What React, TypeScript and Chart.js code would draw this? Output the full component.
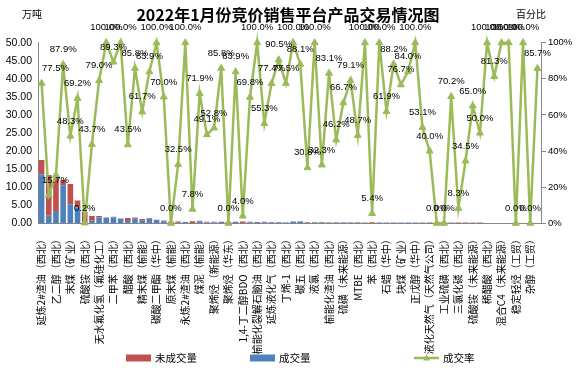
import React, { useEffect, useRef } from 'react';
import { Chart, registerables } from 'chart.js';

Chart.register(...registerables);

const FONT = "'Liberation Sans', 'Noto Sans CJK SC', sans-serif";
const CJK = "'Noto Sans CJK SC', 'Liberation Sans', sans-serif";

const chartTitle = '2022年1月份竞价销售平台产品交易情况图';
const leftUnit = '万吨';
const rightUnit = '百分比';
const seriesNames = ['未成交量', '成交量', '成交率'];

// 70 categories; Excel only shows every second label, the hidden ones are blank
const categories = [
  '延炼2#渣油（西北）', '', '乙二醇（西北）', '', '末煤（矿业）', '', '硫酸铵（西北）', '',
  '无水氟化氢（氟硅化工）', '', '二甲苯（西北）', '', '醋酸（西北）', '', '精末煤（榆能）', '',
  '碳酸二甲酯（华中）', '', '原末煤（榆能）', '', '永炼2#渣油（西北）', '', '煤泥（榆能）', '',
  '聚烯烃（新能源）', '', '聚烯烃（华东）', '', '1,4-丁二醇BDO（西北）', '', '榆能化裂解石脑油（西北）', '',
  '延炼液化气（西北）', '', '丁烯-1（西北）', '', '碳五（西北）', '', '液氯（西北）', '',
  '榆能化渣油（西北）', '', '硫磺（未来能源）', '', 'MTBE（西北）', '', '苯（西北）', '',
  '石蜡（华中）', '', '块煤（矿业）', '', '正戊醇（华中）', '', '液化天然气（天然气公司）', '',
  '工业硫磺（西北）', '', '三氯化磷（西北）', '', '硫酸铵（未来能源）', '', '稀醋酸（西北）', '',
  '混合C4（未来能源）', '', '稳定轻烃（工贸）', '', '杂醇（工贸）', '',
];

// 万吨
const unsoldVolume = [
  3.9, 11.3, 9.2, 1.45, 5.65, 1.95, 3.2, 1.13, 0.42, 0,
  0.19, 0, 0.85, 0.23, 0.46, 0.24, 0, 0.24, 0.45, 0.34,
  0, 0.51, 0.2, 0.2, 0.21, 0.06, 0.4, 0.07, 0.48, 0.12,
  0, 0.18, 0.08, 0.03, 0.07, 0, 0.07, 0.21, 0, 0.2,
  0.05, 0.14, 0.1, 0.06, 0.15, 0, 0.28, 0, 0.1, 0.03,
  0.06, 0.04, 0, 0.12, 0.15, 0.25, 0.25, 0.06, 0.23, 0.13,
  0.07, 0.1, 0, 0.01, 0, 0, 0.03, 0, 0.02, 0.01,
];

const soldVolume = [
  13.6, 2.1, 3.4, 10.55, 5.25, 4.35, 0.01, 0.87, 1.58, 1.6,
  1.61, 1.3, 0.65, 1.37, 0.74, 1.26, 1.0, 0.56, 0, 0.16,
  0.35, 0.04, 0.5, 0.2, 0.24, 0.34, 0, 0.38, 0.02, 0.28,
  0.35, 0.22, 0.27, 0.32, 0.23, 0.5, 0.53, 0.09, 0.3, 0.1,
  0.25, 0.12, 0.2, 0.24, 0.15, 0.25, 0.02, 0.25, 0.15, 0.22,
  0.19, 0.21, 0.2, 0.13, 0.1, 0, 0, 0.14, 0.02, 0.07,
  0.13, 0.1, 0.05, 0.05, 0.04, 0.03, 0, 0.04, 0, 0.04,
];

// %
const dealRate = [
  77.5, 15.7, 26.7, 87.9, 48.3, 69.2, 0.2, 43.7, 79.0, 100,
  89.3, 100, 43.5, 85.8, 61.7, 83.9, 100, 70.0, 0.0, 32.5,
  100, 7.8, 71.9, 49.1, 52.8, 85.8, 0.0, 83.9, 4.0, 69.8,
  100, 55.3, 77.4, 90.5, 77.5, 100, 88.1, 30.8, 100, 32.3,
  83.1, 46.2, 66.7, 79.1, 48.7, 100, 5.4, 100, 61.9, 88.2,
  76.7, 84.0, 100, 53.1, 40.0, 0.0, 0.0, 70.2, 8.3, 34.5,
  65.0, 50.0, 100, 81.3, 100, 100, 0.0, 100, 0.0, 85.7,
];

// points whose data label is absent in the original
const unlabeledPoints = [2];

const RED = '#C0504D';
const BLUE = '#4F81BD';
const GREEN = '#9BBB59';
const AXIS = '#868686';

const rateLabelPlugin = {
  id: 'rateLabels',
  afterDatasetsDraw(chart: any) {
    const meta = chart.getDatasetMeta(2);
    const ctx = chart.ctx;
    const area = chart.chartArea;
    ctx.save();
    ctx.font = `9.5px ${FONT}`;
    ctx.fillStyle = '#000';
    ctx.textAlign = 'center';
    ctx.textBaseline = 'middle';
    meta.data.forEach((pt: any, i: number) => {
      if (unlabeledPoints.includes(i)) return;
      const text = dealRate[i].toFixed(1) + '%';
      const w = ctx.measureText(text).width;
      let x = pt.x;
      if (x - w / 2 < area.left + 4) x = area.left + 4 + w / 2;
      ctx.fillText(text, x, pt.y - 15);
    });
    ctx.restore();
  },
};

const decorPlugin = {
  id: 'decor',
  afterDraw(chart: any) {
    const ctx = chart.ctx;
    const area = chart.chartArea;
    ctx.save();
    ctx.fillStyle = '#000';
    ctx.font = `10px ${CJK}`;
    ctx.textBaseline = 'middle';
    ctx.textAlign = 'center';
    ctx.fillText(leftUnit, area.left - 6, 14);
    ctx.fillText(rightUnit, area.right - 10, 14);

    // legend
    const y = 358;
    ctx.font = `10.5px ${CJK}`;
    ctx.textAlign = 'left';
    const items = [
      { name: seriesNames[0], color: RED, kind: 'box', x: 126 },
      { name: seriesNames[1], color: BLUE, kind: 'box', x: 250 },
      { name: seriesNames[2], color: GREEN, kind: 'line', x: 414 },
    ];
    items.forEach((it) => {
      if (it.kind === 'box') {
        ctx.fillStyle = it.color;
        ctx.fillRect(it.x, y - 3.5, 25, 7);
      } else {
        ctx.strokeStyle = it.color;
        ctx.lineWidth = 2.5;
        ctx.beginPath();
        ctx.moveTo(it.x, y);
        ctx.lineTo(it.x + 25, y);
        ctx.stroke();
        ctx.fillStyle = it.color;
        ctx.beginPath();
        ctx.moveTo(it.x + 12.5, y - 3.5);
        ctx.lineTo(it.x + 16, y + 2.5);
        ctx.lineTo(it.x + 9, y + 2.5);
        ctx.closePath();
        ctx.fill();
      }
      ctx.fillStyle = '#000';
      ctx.fillText(it.name, it.x + 29, y + 0.5);
    });
    ctx.restore();
  },
};

export default function App() {
  const ref = useRef<HTMLCanvasElement | null>(null);

  useEffect(() => {
    if (!ref.current) return;
    Chart.defaults.font.family = FONT;
    const chart = new Chart(ref.current, {
      type: 'bar',
      data: {
        labels: categories,
        datasets: [
          {
            label: seriesNames[1],
            data: soldVolume,
            backgroundColor: BLUE,
            borderWidth: 0,
            yAxisID: 'y',
            stack: 'vol',
            barPercentage: 0.78,
            categoryPercentage: 1,
          },
          {
            label: seriesNames[0],
            data: unsoldVolume,
            backgroundColor: RED,
            borderWidth: 0,
            yAxisID: 'y',
            stack: 'vol',
            barPercentage: 0.78,
            categoryPercentage: 1,
          },
          {
            type: 'line',
            label: seriesNames[2],
            data: dealRate,
            yAxisID: 'y1',
            borderColor: GREEN,
            backgroundColor: GREEN,
            borderWidth: 2.5,
            pointStyle: 'triangle',
            pointRadius: 4,
            pointBackgroundColor: GREEN,
            pointBorderColor: GREEN,
            pointBorderWidth: 1,
            tension: 0,
            order: -1,
            clip: false,
          } as any,
        ],
      },
      options: {
        responsive: false,
        animation: false,
        layout: { padding: 0 },
        plugins: {
          legend: { display: false },
          tooltip: { enabled: false },
          title: {
            display: true,
            text: chartTitle,
            color: '#000',
            font: { size: 16, weight: 'bold', family: CJK },
            padding: { top: 5, bottom: 18.5 },
          },
        },
        scales: {
          x: {
            stacked: true,
            grid: { display: false, drawTicks: false },
            border: { display: true, color: AXIS, width: 1 },
            ticks: {
              autoSkip: false,
              maxRotation: 90,
              minRotation: 90,
              padding: 11,
              color: '#000',
              font: { size: 10, family: CJK },
            },
            afterFit: (s: any) => {
              s.height = 370 - 223.3;
            },
          },
          y: {
            type: 'linear',
            position: 'left',
            stacked: true,
            min: 0,
            max: 50,
            grid: { display: false, drawTicks: false },
            border: { display: true, color: AXIS, width: 1 },
            ticks: {
              stepSize: 5,
              padding: 6,
              color: '#000',
              font: { size: 10.5, family: FONT },
              callback: (v: any) => Number(v).toFixed(2),
            },
            afterFit: (s: any) => {
              s.width = 38;
            },
          },
          y1: {
            type: 'linear',
            position: 'right',
            min: 0,
            max: 100,
            grid: { drawOnChartArea: false, drawTicks: true, tickLength: 5, color: AXIS },
            border: { display: true, color: AXIS, width: 1 },
            ticks: {
              stepSize: 20,
              padding: 2,
              color: '#000',
              font: { size: 9.5, family: FONT },
              callback: (v: any) => v + '%',
            },
            afterFit: (s: any) => {
              s.width = 35;
            },
          },
        },
      },
      plugins: [rateLabelPlugin, decorPlugin],
    });
    return () => chart.destroy();
  }, []);

  return (
    <div style={{ position: 'fixed', left: 0, top: 0, width: 576, height: 370, background: '#fff' }}>
      <canvas ref={ref} width={576} height={370} />
    </div>
  );
}
